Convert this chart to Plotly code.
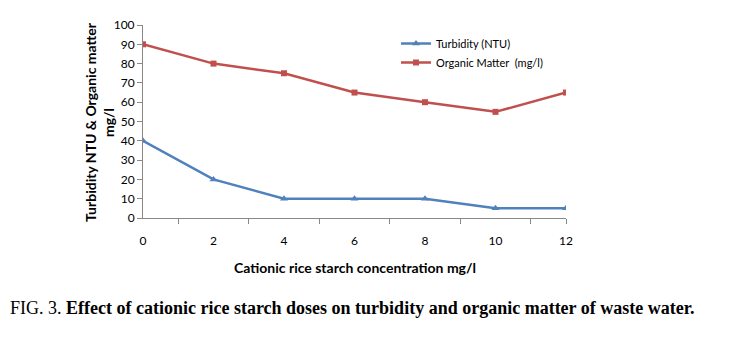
import plotly.graph_objects as go

x_vals = [0, 2, 4, 6, 8, 10, 12]
turbidity = [40, 20, 10, 10, 10, 5, 5]
organic = [90, 80, 75, 65, 60, 55, 65]
y_ticks = list(range(0, 101, 10))

L, R, T, B = 143, 171, 25, 123
W, H = 737, 341
pw = W - L - R
ph = H - T - B

fig = go.Figure()
fig.add_trace(go.Scatter(x=x_vals, y=turbidity, name="Turbidity (NTU)", mode="lines+markers",
                         line=dict(color="#4F81BD", width=2.5),
                         marker=dict(symbol="triangle-up", size=7, color="#4F81BD")))
fig.add_trace(go.Scatter(x=x_vals, y=organic, name="Organic Matter  (mg/l)", mode="lines+markers",
                         line=dict(color="#C0504D", width=2.5),
                         marker=dict(symbol="square", size=6, color="#C0504D")))

font_main = "Lato, 'Open Sans', sans-serif"
fig.update_layout(
    width=W, height=H,
    margin=dict(l=L, r=R, t=T, b=B),
    paper_bgcolor="white", plot_bgcolor="white",
    font=dict(family=font_main, size=12, color="black"),
    showlegend=True,
    legend=dict(x=(396 - L) / pw, y=(218 - 29) / ph, xanchor="left", yanchor="top",
                bgcolor="rgba(0,0,0,0)", font=dict(size=11), tracegroupgap=0, itemwidth=30),
    xaxis=dict(range=[0, 12], tickvals=x_vals, ticktext=[str(v) for v in x_vals],
               ticks="", showgrid=False, zeroline=False, showline=True, linecolor="#888888",
               linewidth=1, ticklabelstandoff=12, tickfont=dict(size=12),
               minor=dict(tickvals=[1, 3, 5, 7, 9, 11, 12], ticks="outside", ticklen=5,
                          tickcolor="#888888", showgrid=False)),
    yaxis=dict(range=[0, 100], tickvals=y_ticks, ticks="outside", ticklen=5, tickcolor="#888888",
               showgrid=False, zeroline=False, showline=True, linecolor="#888888", linewidth=1,
               tickfont=dict(size=12)),
)

fig.add_annotation(text="<b>Turbidity NTU & Organic matter<br>mg/l</b>", textangle=-90,
                   xref="paper", yref="paper", x=(99 - L) / pw, y=(218 - 122) / ph,
                   xanchor="center", yanchor="middle", showarrow=False,
                   font=dict(size=14, family=font_main))
fig.add_annotation(text="<b>Cationic rice starch concentration mg/l</b>",
                   xref="paper", yref="paper", x=(355 - L) / pw, y=-(267 - 218) / ph,
                   xanchor="center", yanchor="middle", showarrow=False,
                   font=dict(size=14, family=font_main))
fig.add_annotation(text="FIG. 3. <b>Effect of cationic rice starch doses on turbidity and organic matter of waste water.</b>",
                   xref="paper", yref="paper", x=(8 - L) / pw, y=-(308 - 218) / ph,
                   xanchor="left", yanchor="middle", showarrow=False,
                   font=dict(size=18, family="'Liberation Serif', 'Times New Roman', serif"))

fig.write_html("out.html")
